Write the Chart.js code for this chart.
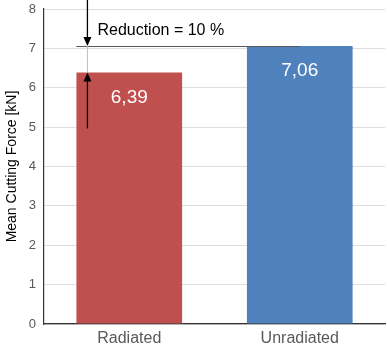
<!DOCTYPE html>
<html>
<head>
<meta charset="utf-8">
<script src="https://cdn.jsdelivr.net/npm/chart.js@4"></script>
<style>
  html, body { margin: 0; padding: 0; background: #fff; }
  #wrap { width: 387px; height: 348px; position: relative; }
</style>
</head>
<body>
<div id="wrap"><canvas id="chart"></canvas></div>
<script>
const categories = ['Radiated', 'Unradiated'];
const forces = [6.39, 7.06];
const barColors = ['#C0504D', '#4F81BD'];
const valueLabels = ['6,39', '7,06'];
const reductionText = 'Reduction = 10 %';

// draws value labels inside bars and the reduction arrows
const annotate = {
  id: 'annotate',
  afterDatasetsDraw(chart) {
    const ctx = chart.ctx;
    const y = chart.scales.y;
    const meta = chart.getDatasetMeta(0);

    ctx.save();
    ctx.fillStyle = '#fff';
    ctx.font = '19px "Liberation Sans", Arial, sans-serif';
    ctx.textAlign = 'center';
    ctx.textBaseline = 'middle';
    meta.data.forEach((bar, i) => {
      ctx.fillText(valueLabels[i], bar.x, bar.y + 25);
    });

    const hi = forces[1], lo = forces[0];
    const yHi = y.getPixelForValue(hi);
    const yLo = y.getPixelForValue(lo);
    const left = meta.data[0].x - meta.data[0].width / 2;
    const ax = left + 11;

    // reference line at higher value
    ctx.strokeStyle = '#595959';
    ctx.lineWidth = 1.2;
    ctx.beginPath();
    ctx.moveTo(left, yHi + 0.5);
    ctx.lineTo(meta.data[1].x, yHi + 0.5);
    ctx.stroke();

    // thin gray connector
    ctx.strokeStyle = '#bfbfbf';
    ctx.lineWidth = 1;
    ctx.beginPath();
    ctx.moveTo(ax, yHi);
    ctx.lineTo(ax, yLo);
    ctx.stroke();

    // down arrow from top
    ctx.strokeStyle = '#000';
    ctx.fillStyle = '#000';
    ctx.lineWidth = 1.3;
    ctx.beginPath();
    ctx.moveTo(ax, 0);
    ctx.lineTo(ax, yHi - 6);
    ctx.stroke();
    ctx.beginPath();
    ctx.moveTo(ax - 4, yHi - 9);
    ctx.lineTo(ax + 4, yHi - 9);
    ctx.lineTo(ax, yHi);
    ctx.closePath();
    ctx.fill();

    // up arrow from below
    ctx.beginPath();
    ctx.moveTo(ax, yLo + 56);
    ctx.lineTo(ax, yLo + 6);
    ctx.stroke();
    ctx.beginPath();
    ctx.moveTo(ax - 4, yLo + 9);
    ctx.lineTo(ax + 4, yLo + 9);
    ctx.lineTo(ax, yLo);
    ctx.closePath();
    ctx.fill();

    ctx.fillStyle = '#000';
    ctx.font = '16px "Liberation Sans", Arial, sans-serif';
    ctx.textAlign = 'left';
    ctx.fillText(reductionText, ax + 10, yHi - 15);
    ctx.restore();
  }
};

new Chart(document.getElementById('chart'), {
  type: 'bar',
  data: {
    labels: categories,
    datasets: [{
      data: forces,
      backgroundColor: barColors,
      categoryPercentage: 1,
      barPercentage: 0.62
    }]
  },
  options: {
    responsive: true,
    maintainAspectRatio: false,
    animation: false,
    layout: { padding: { top: 0, right: 2, left: 4, bottom: 0 } },
    plugins: {
      legend: { display: false },
      tooltip: { enabled: false }
    },
    scales: {
      x: {
        grid: { display: false, drawTicks: false },
        border: { color: '#333', width: 1.2 },
        ticks: {
          color: '#595959',
          padding: 5,
          font: { family: '"Liberation Sans", Arial, sans-serif', size: 16 }
        },
        afterFit(s) { s.height = 24; }
      },
      y: {
        min: 0,
        max: 8,
        ticks: {
          stepSize: 1,
          color: '#595959',
          padding: 8,
          font: { family: '"Liberation Sans", Arial, sans-serif', size: 13 }
        },
        grid: { color: '#dedede', drawTicks: false },
        border: { color: '#333', width: 1.2 },
        title: {
          display: true,
          text: 'Mean Cutting Force [kN]',
          color: '#000',
          padding: 0,
          font: { family: '"Liberation Sans", Arial, sans-serif', size: 14 }
        },
        afterFit(s) { s.paddingTop = 9; s.paddingBottom = 0; }
      }
    }
  },
  plugins: [annotate]
});
</script>
</body>
</html>
